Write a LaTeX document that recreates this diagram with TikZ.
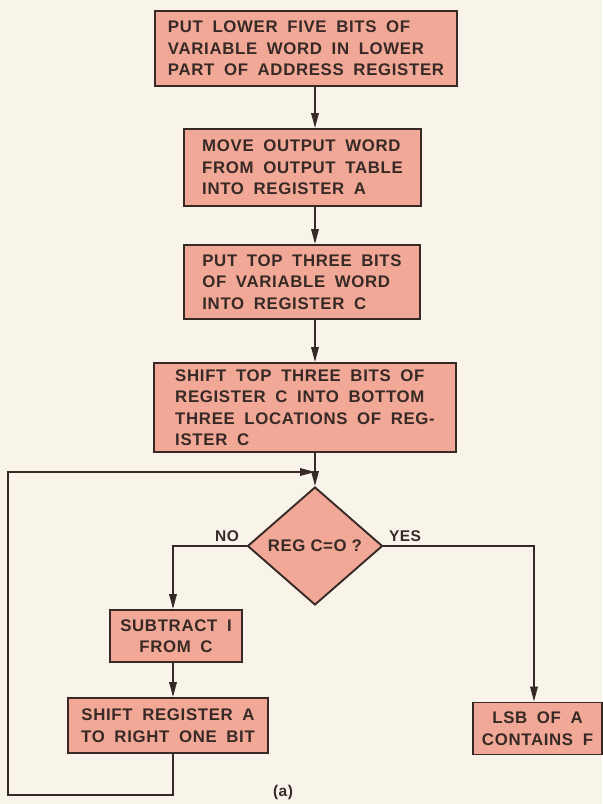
\documentclass[tikz,border=0pt]{standalone}
\usepackage{fontspec}
\setmainfont{Liberation Sans}
\newfontfamily\chartfont[LetterSpace=4,WordSpace=1.8]{Liberation Sans}
\newfontfamily\tightfont[LetterSpace=3]{Liberation Sans}
\usetikzlibrary{shapes.geometric,arrows.meta}

\definecolor{paper}{RGB}{248,244,234}
\definecolor{boxfill}{RGB}{241,168,150}
\definecolor{ink}{RGB}{55,42,38}

\begin{document}
\begin{tikzpicture}[x=1pt,y=-1pt,
  every node/.style={font=\chartfont\bfseries\fontsize{16.8}{21.5}\selectfont, text=ink},
  procbox/.style={draw=ink, fill=boxfill, line width=1.9pt, rectangle, inner sep=0pt, align=left},
  cbox/.style={procbox, align=center},
  decision/.style={draw=ink, fill=boxfill, line width=1.9pt, diamond, inner sep=0pt,
    font=\tightfont\bfseries\fontsize{16.8}{20}\selectfont},
  flow/.style={draw=ink, line width=1.8pt, -{Triangle[length=15pt,width=7.5pt]}},
  lbl/.style={font=\tightfont\bfseries\fontsize{15.5}{18}\selectfont}]

  % page
  \fill[paper] (0,0) rectangle (602,804);

  % columns and corners of the connector routes
  \coordinate (col) at (315,0);
  \coordinate (nocol) at (173,0);
  \coordinate (yescol) at (534,0);
  \coordinate (join) at (315,472);
  \coordinate (loopcorner) at (8,795);

  % main sequence
  \node[procbox, minimum width=302pt, minimum height=75pt] (b1) at (306,48.5)
    {PUT LOWER FIVE BITS OF\\VARIABLE WORD IN LOWER\\PART OF ADDRESS REGISTER};
  \node[procbox, minimum width=237pt, minimum height=77pt] (b2) at (302.5,167.5)
    {MOVE OUTPUT WORD\\FROM OUTPUT TABLE\\INTO REGISTER A};
  \node[procbox, minimum width=236pt, minimum height=74pt] (b3) at (302,282)
    {PUT TOP THREE BITS\\OF VARIABLE WORD\\INTO REGISTER C};
  \node[procbox, minimum width=302pt, minimum height=89pt] (b4) at (305,407.5)
    {SHIFT TOP THREE BITS OF\\REGISTER C INTO BOTTOM\\THREE LOCATIONS OF REG-\\ISTER C};

  % test
  \node[decision, minimum width=135pt, minimum height=118pt] (d) at (315,546) {REG C=O ?};

  % loop body and exit
  \node[cbox, minimum width=132pt, minimum height=52pt] (b5) at (176,636)
    {SUBTRACT I\\FROM C};
  \node[cbox, minimum width=200pt, minimum height=55pt] (b6) at (168,725.5)
    {SHIFT REGISTER A\\TO RIGHT ONE BIT};
  \node[cbox, minimum width=129pt, minimum height=52pt] (b7) at (537.5,728.5)
    {LSB OF A\\CONTAINS F};

  % connectors
  \draw[flow] (b1.south -| col) -- (b2.north -| col);
  \draw[flow] (b2.south -| col) -- (b3.north -| col);
  \draw[flow] (b3.south -| col) -- (b4.north -| col);
  \draw[flow] (b4.south -| d.north) -- (d.north);
  \draw[flow] (d.west) -| (b5.north -| nocol);
  \draw[flow] (b5.south -| nocol) -- (b6.north -| nocol);
  \draw[flow] (d.east) -| (b7.north -| yescol);
  \draw[flow] (b6.south -| nocol) -- (nocol |- loopcorner) -- (loopcorner)
    -- (loopcorner |- join) -- (join);

  % branch labels and caption
  \node[lbl] (no) at (227,536) {NO};
  \node[lbl] (yes) at (405,536) {YES};
  \node[lbl] (cap) at (283,792) {(a)};
\end{tikzpicture}
\end{document}
